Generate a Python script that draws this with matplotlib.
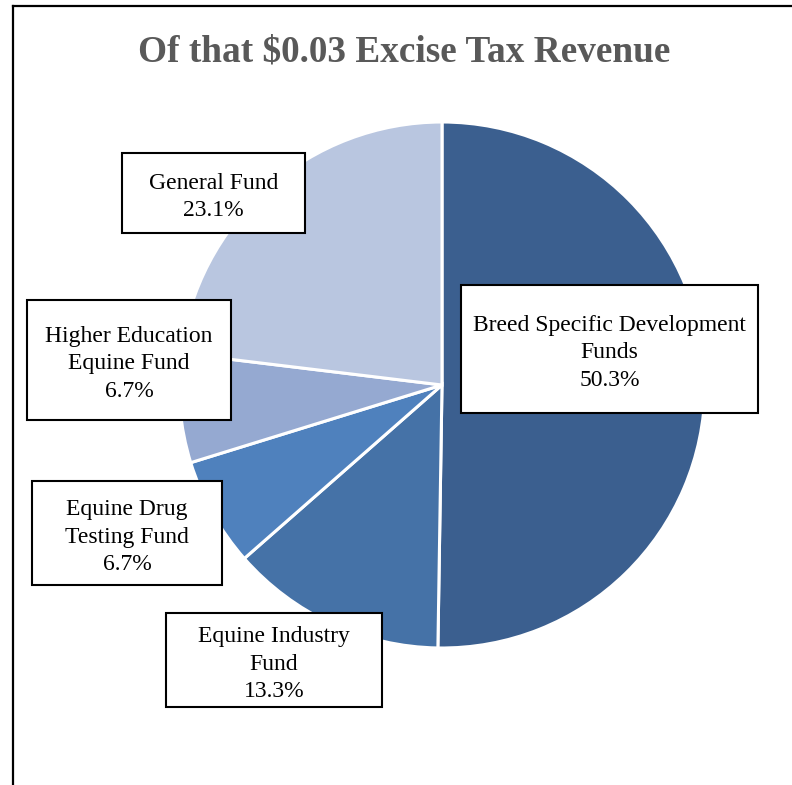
import matplotlib.pyplot as plt
from matplotlib.patches import Rectangle
from matplotlib.lines import Line2D

plt.rcParams['font.family'] = ['Liberation Serif', 'DejaVu Serif']

# Revenue split
funds = ["Breed Specific Development\nFunds", "Equine Industry\nFund",
         "Equine Drug\nTesting Fund", "Higher Education\nEquine Fund", "General Fund"]
shares = [50.3, 13.3, 6.7, 6.7, 23.1]
colors = ["#3B5F8F", "#4572A7", "#4F81BD", "#95A9D1", "#B9C6E0"]

# label boxes in pixels: left, top, width, height
boxes = [(461, 285, 297, 128), (166, 613, 216, 94), (32, 481, 190, 104),
         (27, 300, 204, 120), (122, 153, 183, 80)]

W, H = 792, 785
fig = plt.figure(figsize=(W / 100, H / 100), dpi=100)

cx, cy, r = 442, 385, 263
ax = fig.add_axes([(cx - r) / W, (H - cy - r) / H, 2 * r / W, 2 * r / H])
ax.pie(shares, colors=colors, startangle=90, counterclock=False,
       wedgeprops=dict(edgecolor="white", linewidth=2.2))
ax.set_xlim(-1, 1)
ax.set_ylim(-1, 1)

fig.text(404 / W, 1 - 52 / H, "Of that $0.03 Excise Tax Revenue", ha="center", va="center",
         fontsize=26.8, fontweight="bold", color="#595959")

for name, val, (bx, by, bw, bh) in zip(funds, shares, boxes):
    fig.patches.append(Rectangle((bx / W, 1 - (by + bh) / H), bw / W, bh / H,
                                 transform=fig.transFigure, facecolor="white",
                                 edgecolor="black", linewidth=1.5, zorder=3))
    fig.text((bx + bw / 2) / W, 1 - (by + bh / 2 + 4) / H, f"{name}\n{val}%",
             ha="center", va="center", fontsize=17, linespacing=1.38, zorder=4)

# outer frame (left and top edges)
fig.add_artist(Line2D([12.5 / W, 12.5 / W], [0, 1 - 6 / H], color="black", linewidth=1.6))
fig.add_artist(Line2D([12.5 / W, 1], [1 - 6 / H, 1 - 6 / H], color="black", linewidth=1.6))

fig.savefig("out.png", dpi=100)
